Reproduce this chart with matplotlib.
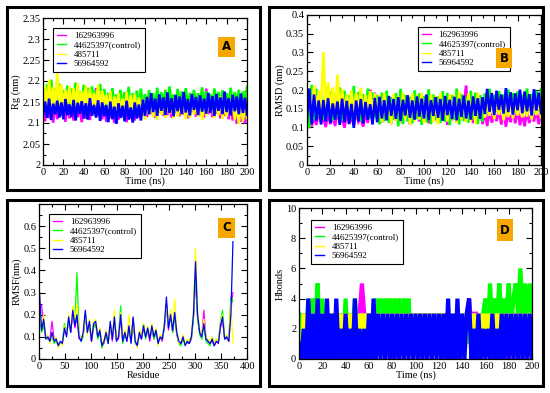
import numpy as np
import matplotlib
matplotlib.use("Agg")
import matplotlib.pyplot as plt
from matplotlib.patches import Rectangle
from matplotlib.ticker import MultipleLocator, FuncFormatter

plt.rcParams['font.family'] = ['Liberation Serif', 'DejaVu Serif']

series_names = ["162963996", "44625397(control)", "485711", "56964592"]
series_colors = ["#ff00ff", "#00ff00", "#ffff00", "#0000ff"]

# ---------------- Panel A: Rg (nm), time 0-200 ns ----------------
rg_magenta = [2.128,2.104,2.147,2.112,2.139,2.101,2.152,2.109,2.143,2.118,2.136,2.103,2.149,2.111,2.141,2.106,2.155,2.114,2.138,2.102,2.146,2.110,2.151,2.107,2.168,
              2.121,2.183,2.116,2.174,2.109,2.148,
              2.103,2.142,2.112,2.151,2.100,2.137,2.108,2.146,2.115,2.139,2.102,2.153,2.110,2.141,2.106,2.148,2.113,2.136,2.118,2.157,
              2.114,2.162,2.121,2.149,2.112,2.158,2.125,2.152,2.117,2.165,2.119,2.147,2.113,2.160,2.124,2.151,2.116,2.163,2.120,2.148,2.111,2.157,2.126,2.154,2.115,2.161,2.118,2.150,2.113,
              2.182,2.121,2.166,
              2.114,2.158,2.122,2.149,2.111,2.163,2.117,2.152,2.109,2.157,2.106,2.146,
              2.098,2.141,2.103,2.133,2.099,2.128]
rg_green = [2.158,2.133,2.192,2.141,2.203,2.147,
            2.183,2.139,2.194,2.152,2.178,2.143,2.189,2.136,2.182,2.155,2.196,2.146,2.176,2.141,2.191,2.153,2.184,2.138,2.187,2.149,2.179,2.144,2.193,2.137,2.181,
            2.134,2.172,2.128,2.183,2.139,2.168,2.143,2.179,2.131,2.174,2.137,2.186,2.129,2.171,2.145,2.177,2.133,2.182,2.136,2.169,
            2.132,2.178,2.144,2.171,2.137,2.184,2.129,2.173,2.141,2.179,2.134,2.187,2.146,2.168,2.131,2.181,2.139,2.175,2.133,2.183,2.127,2.172,2.142,2.179,2.136,
            2.171,2.145,2.185,2.132,2.176,2.138,2.169,2.133,2.182,2.144,2.174,2.129,2.178,2.141,2.171,2.135,2.184,2.139,2.173,2.146,2.179,2.132,2.175,2.143,2.186]
rg_yellow = [2.142,2.188,2.129,2.203,2.137,2.186,2.131,2.221,
             2.141,2.192,2.133,2.178,2.146,2.187,2.128,2.183,2.139,2.194,2.134,2.176,2.143,2.189,2.127,2.181,2.138,2.172,2.136,2.191,2.129,2.177,2.142,
             2.168,2.124,2.176,2.118,2.163,2.129,2.171,2.121,2.158,2.127,2.174,2.116,2.166,2.123,2.169,2.119,2.161,
             2.116,2.158,2.109,2.152,2.121,2.163,2.114,2.149,2.108,2.157,2.119,2.153,2.112,2.164,2.123,2.151,2.111,2.159,2.115,2.148,2.118,2.162,2.109,2.155,
             2.113,2.166,2.120,2.151,2.116,2.158,2.107,2.153,2.117,2.161,2.124,2.149,2.112,2.157,2.118,2.163,2.110,2.150,2.115,2.159,2.121,2.154,2.108,
             2.148,2.098,2.157,2.104,2.146,2.112]
rg_blue = [2.118,2.151,2.112,2.158,2.107,2.146,2.121,2.153,2.113,2.149,2.109,2.157,2.119,2.144,2.114,2.155,2.106,2.148,2.122,2.152,2.111,2.147,2.108,2.159,2.117,2.143,2.113,2.154,2.105,2.149,2.116,
           2.143,2.102,2.151,2.109,2.139,2.098,2.147,2.112,2.141,2.104,2.153,2.108,2.137,2.101,2.149,2.111,2.144,2.106,2.156,2.117,
           2.162,2.121,2.171,2.126,2.158,2.117,2.168,2.129,2.161,2.119,2.173,2.124,2.159,2.116,2.167,2.128,2.163,2.121,2.174,2.125,2.157,2.118,2.169,2.131,2.162,
           2.119,2.166,2.127,2.158,2.122,2.172,2.124,2.164,2.117,2.169,2.129,2.161,2.121,2.175,2.126,2.159,2.118,2.167,2.128,2.163,2.121,2.170,2.124,2.160,2.120]

# ---------------- Panel B: RMSD (nm), time 0-200 ns ----------------
rmsd_magenta = [0.112,0.134,0.103,0.128,0.107,0.141,0.114,0.126,0.101,0.137,0.109,0.131,0.104,0.143,0.113,0.127,0.099,0.136,0.111,0.129,0.106,0.142,0.115,0.125,0.102,0.138,0.112,
                0.201,0.142,0.193,
                0.121,0.158,0.113,0.167,0.124,0.151,0.109,0.162,0.118,0.171,0.114,0.155,0.123,0.163,0.108,0.168,0.119,0.152,0.116,0.166,0.125,0.157,0.111,0.161,0.117,0.172,0.113,0.154,0.122,0.165,0.107,0.159,0.119,0.169,0.114,0.175,0.121,0.158,
                0.212,
                0.118,0.167,0.112,0.158,0.123,0.153,
                0.109,0.141,0.104,0.147,0.113,0.136,0.117,0.149,0.108,0.143,0.102,0.138,0.114,0.146,0.111,0.151,0.106,0.139,0.103,0.144,0.112,0.137,0.116,0.148,0.109,0.142]
rmsd_green = [0.152,0.098,0.214,0.121,0.203,0.128,
              0.187,0.122,0.209,0.131,0.196,0.118,0.191,0.127,0.207,0.119,0.198,0.133,0.186,0.121,0.211,0.126,0.195,0.117,0.189,0.132,0.204,0.123,0.193,0.128,0.186,
              0.108,0.193,0.117,0.198,0.112,0.181,0.121,0.192,0.103,0.203,0.109,0.187,0.116,0.182,0.111,0.199,0.123,0.191,0.107,0.184,0.114,0.202,0.109,0.188,0.119,0.183,0.112,0.197,0.115,0.192,
              0.106,0.186,0.121,0.204,0.108,0.189,0.117,0.181,0.113,0.198,0.122,0.193,0.109,0.186,0.116,
              0.191,0.138,0.203,0.147,0.186,0.141,0.197,0.149,0.188,0.136,0.201,0.144,0.192,0.139,0.196,0.148,0.187,0.142,0.204,0.146,0.189,0.137,0.198,0.143,0.202]
rmsd_yellow = [0.118,0.203,0.127,0.212,0.142,0.198,0.151,
               0.301,
               0.139,0.221,0.146,0.207,0.141,
               0.241,
               0.138,0.203,0.131,0.188,0.143,0.199,0.134,0.192,0.141,0.206,0.129,0.187,0.144,0.197,0.133,0.191,0.142,
               0.187,0.114,0.192,0.121,0.178,0.109,0.189,0.118,0.183,0.116,0.194,0.123,0.179,0.108,0.191,0.117,0.186,0.121,0.193,0.111,0.181,0.119,0.188,0.114,0.184,0.108,0.192,0.122,0.177,0.116,
               0.189,0.119,0.186,0.112,0.196,0.121,0.182,0.114,0.191,0.118,0.184,0.109,0.193,0.123,0.181,
               0.126,0.168,0.131,0.177,0.122,0.171,0.134,0.174,0.119,0.166,0.128,0.178,0.124,0.169,0.132,0.176,0.127,0.172,0.129,0.179,0.121,0.168,0.133,0.175,0.126]
rmsd_blue = [0.118,0.204,0.109,0.188,0.117,0.172,
             0.108,0.173,0.116,0.178,0.112,0.164,0.121,0.169,0.107,0.177,0.114,0.171,0.109,0.163,0.099,0.172,0.116,0.176,0.111,0.168,0.121,0.162,0.108,0.179,0.114,
             0.182,0.124,0.173,0.119,0.184,0.131,0.176,0.123,0.181,0.118,0.174,0.132,0.186,0.126,0.172,0.121,0.183,0.129,0.177,0.124,0.188,0.119,0.173,0.131,0.181,0.126,0.176,0.118,0.184,0.133,
             0.174,0.122,0.182,0.119,0.177,0.128,0.185,0.124,0.172,0.121,0.183,0.131,0.178,0.123,0.181,
             0.136,0.203,0.142,0.192,0.133,0.198,0.147,0.188,0.137,0.205,0.141,0.194,0.134,0.191,0.146,0.201,0.138,0.196,0.143,0.189,0.132,0.202,0.145,0.193,0.139]

# ---------------- Panel C: RMSF (nm) vs residue (1, 5, 9, ... 373) ----------------
rmsf_magenta = [0.25,0.24,0.17,0.10,0.09,0.09,0.17,0.09,0.08,0.07,
                0.07,0.08,0.13,0.11,0.18,0.12,0.21,0.14,0.19,0.09,
                0.09,0.11,0.20,0.12,0.16,0.08,0.15,0.16,0.10,0.12,
                0.06,0.07,0.12,0.08,0.15,0.08,0.18,0.09,0.09,0.19,
                0.08,0.11,0.08,0.14,0.08,0.18,0.08,0.07,0.11,0.09,
                0.14,0.10,0.13,0.08,0.14,0.09,0.12,0.08,0.10,0.08,
                0.14,0.25,0.13,0.21,0.12,0.20,0.11,0.07,0.07,0.09,
                0.07,0.08,0.07,0.09,0.19,0.35,0.19,0.12,0.10,0.22,
                0.10,0.08,0.07,0.08,0.06,0.08,0.08,0.14,0.18,0.09,
                0.10,0.08,0.22,0.30]
rmsf_green = [0.20,0.12,0.15,0.10,0.09,0.08,0.10,0.07,0.08,0.06,
              0.07,0.08,0.16,0.12,0.17,0.13,0.20,0.17,0.39,0.12,
              0.08,0.10,0.20,0.13,0.15,0.09,0.14,0.16,0.09,0.12,
              0.05,0.08,0.11,0.07,0.15,0.10,0.18,0.08,0.11,0.24,
              0.07,0.11,0.09,0.14,0.08,0.17,0.07,0.06,0.11,0.10,
              0.16,0.09,0.13,0.10,0.14,0.09,0.12,0.08,0.09,0.10,
              0.14,0.24,0.15,0.19,0.12,0.20,0.11,0.07,0.06,0.09,
              0.07,0.07,0.08,0.09,0.18,0.38,0.18,0.11,0.09,0.15,
              0.08,0.07,0.06,0.10,0.07,0.09,0.08,0.17,0.22,0.10,
              0.09,0.10,0.28,0.26]
rmsf_yellow = [0.22,0.14,0.20,0.09,0.11,0.07,0.11,0.08,0.10,0.05,
               0.08,0.06,0.15,0.11,0.20,0.13,0.24,0.18,0.25,0.11,
               0.09,0.11,0.21,0.11,0.18,0.09,0.17,0.18,0.11,0.14,
               0.07,0.09,0.13,0.08,0.16,0.10,0.22,0.09,0.11,0.21,
               0.09,0.13,0.09,0.20,0.08,0.17,0.09,0.05,0.13,0.10,
               0.16,0.11,0.15,0.10,0.16,0.11,0.14,0.06,0.11,0.10,
               0.16,0.25,0.16,0.22,0.15,0.27,0.13,0.07,0.08,0.11,
               0.07,0.09,0.08,0.11,0.22,0.50,0.22,0.13,0.11,0.18,
               0.10,0.09,0.08,0.10,0.07,0.09,0.08,0.16,0.20,0.10,
               0.11,0.09,0.26,0.07]
rmsf_blue = [0.30,0.13,0.18,0.09,0.10,0.08,0.12,0.08,0.09,0.06,
             0.08,0.07,0.14,0.10,0.19,0.12,0.22,0.15,0.20,0.10,
             0.08,0.12,0.22,0.12,0.17,0.08,0.16,0.17,0.10,0.13,
             0.06,0.08,0.12,0.07,0.17,0.09,0.19,0.08,0.10,0.20,
             0.08,0.12,0.08,0.15,0.07,0.19,0.08,0.06,0.12,0.09,
             0.15,0.10,0.14,0.09,0.15,0.10,0.13,0.07,0.10,0.09,
             0.15,0.28,0.14,0.20,0.13,0.21,0.12,0.08,0.07,0.10,
             0.06,0.08,0.07,0.10,0.20,0.44,0.20,0.12,0.10,0.16,
             0.09,0.08,0.07,0.09,0.06,0.08,0.07,0.15,0.19,0.09,
             0.10,0.08,0.20,0.53]

# ---------------- Panel D: H-bonds, time 0-200 ns ----------------
hb_magenta = [2,0,3,1,3,0,3,1,3,0,3,1,3,0,3,1,3,0,3,1,3,0,3,1,3,1,
              3,5,3,2,
              3,1,3,0,3,1,3,0,3,1,3,0,3,1,3,0,3,1,3,0,3,1,3,0,3,1,3,0,3,1,3,0,3,1,3,0,3,1,3,0,3,1,3,
              4,2,3,
              3,2,3,1,3,2,3,1,3,2,3,1,3,0,3,1,3,0,3,1,3,0,3,1,3]
hb_green = [3,1,3,1,
            4,1,4,2,5,1,4,
            1,3,1,3,1,3,1,
            3,1,4,1,3,2,4,1,3,1,3,1,
            3,1,3,
            4,2,4,1,4,2,4,1,4,2,4,1,4,2,4,1,
            3,1,3,1,3,1,3,1,3,1,3,1,3,1,3,1,3,1,3,1,3,1,3,1,3,1,3,1,3,1,3,
            4,2,5,2,4,3,5,2,4,3,5,2,4,
            5,3,6,3,5,3,5,3]
hb_yellow = [1,0,3,0,3,1,3,0,3,1,3,0,3,1,3,0,3,1,
             3,1,3,0,3,1,3,0,3,1,3,0,
             3,0,3,1,3,0,3,1,3,0,3,1,3,0,3,1,3,0,3,1,3,0,3,1,3,0,3,1,3,0,3,1,3,0,3,1,3,0,3,1,3,0,3,
             3,2,3,2,3,2,3,2,3,2,3,2,3,2,
             3,0,3,1,3,0,3,1,3,0,3,1,3,0]
hb_blue = [1,0,2,0,
           4,0,3,0,4,0,3,0,4,0,3,0,4,0,
           2,0,3,0,2,0,4,0,2,0,2,0,
           3,0,4,0,3,0,3,0,3,0,3,0,3,0,3,0,3,0,3,0,3,0,3,0,3,0,3,0,3,0,3,0,3,0,4,0,3,0,4,0,3,0,3,
           4,0,2,0,3,0,2,0,2,0,3,0,2,0,
           3,0,3,0,3,0,3,0,3,0,3,0,3,0]

W, H = 550, 393
fig = plt.figure(figsize=(5.5, 3.93), dpi=100)
fig.patch.set_facecolor("white")

def ax_px(x0, y0, x1, y1):
    return fig.add_axes([x0 / W, 1 - y1 / H, (x1 - x0) / W, (y1 - y0) / H])

def frame_px(x0, y0, x1, y1):
    fig.patches.append(Rectangle((x0 / W, 1 - y1 / H), (x1 - x0) / W, (y1 - y0) / H,
                                 transform=fig.transFigure, fill=False, lw=2.2,
                                 edgecolor="black", zorder=10))

fmt = FuncFormatter(lambda v, p: "%g" % round(v, 4))

def style(ax, xlim, ylim, xmaj, xmin, ymaj, ymin, xlabel, ylabel):
    ax.set_xlim(*xlim)
    ax.set_ylim(*ylim)
    ax.xaxis.set_major_locator(MultipleLocator(xmaj))
    ax.xaxis.set_minor_locator(MultipleLocator(xmin))
    ax.yaxis.set_major_locator(MultipleLocator(ymaj))
    ax.yaxis.set_minor_locator(MultipleLocator(ymin))
    ax.xaxis.set_major_formatter(fmt)
    ax.yaxis.set_major_formatter(fmt)
    ax.tick_params(which="both", direction="in", top=True, right=True, width=0.8,
                   labelsize=7.5, pad=2)
    ax.tick_params(which="major", length=4)
    ax.tick_params(which="minor", length=2)
    for s in ax.spines.values():
        s.set_linewidth(0.9)
        s.set_zorder(4)
    ax.set_xlabel(xlabel, fontsize=7.5, labelpad=0)
    ax.set_ylabel(ylabel, fontsize=7.5, labelpad=1)

def legend(ax, x, y):
    leg = ax.legend(loc="upper left", bbox_to_anchor=(x, y), borderaxespad=0,
                    fontsize=6.5, frameon=True, fancybox=False, framealpha=1,
                    edgecolor="black", handlelength=1.0, handletextpad=0.9,
                    labelspacing=0.12, borderpad=0.4)
    leg.get_frame().set_linewidth(0.8)
    for h in leg.get_lines():
        h.set_linewidth(1.0)
    leg.set_zorder(5)

def tag(ax, cx, cy, letter, w=17, h=20):
    bw = w / (ax.bbox.width)
    bh = h / (ax.bbox.height)
    ax.add_patch(Rectangle((cx - bw / 2, cy - bh / 2), bw, bh, transform=ax.transAxes,
                           facecolor="#f7a800", edgecolor="none", zorder=6, clip_on=False))
    ax.text(cx, cy, letter, transform=ax.transAxes, ha="center", va="center",
            fontsize=8.5, fontweight="bold", family="DejaVu Sans", color="black", zorder=7)

def draw(ax, arrays, lw, xstart=0, xend=200):
    for arr, c, name in zip(arrays, series_colors, series_names):
        x = np.linspace(xstart, xend, len(arr))
        ax.plot(x, arr, color=c, lw=lw, label=name, solid_joinstyle="miter")

# Panel A
frame_px(7, 7, 260, 190)
axA = ax_px(43, 18, 247, 165)
draw(axA, [rg_magenta, rg_green, rg_yellow, rg_blue], 1.9)
style(axA, (0, 200), (2.0, 2.35), 20, 10, 0.05, 0.025, "Time (ns)", "Rg (nm)")
legend(axA, 0.049, 0.932)
tag(axA, 0.90, 0.803, "A")

# Panel B
frame_px(269, 7, 543, 190)
axB = ax_px(307, 15, 541, 165)
draw(axB, [rmsd_magenta, rmsd_green, rmsd_yellow, rmsd_blue], 1.9)
style(axB, (0, 200), (0, 0.4), 20, 10, 0.05, 0.025, "Time (ns)", "RMSD (nm)")
legend(axB, 0.474, 0.92)
tag(axB, 0.844, 0.713, "B", w=16, h=20)

# Panel C
frame_px(7, 200, 260, 386)
axC = ax_px(39, 204, 247, 359)
for arr, c, name in zip([rmsf_magenta, rmsf_green, rmsf_yellow, rmsf_blue], series_colors, series_names):
    res = 1 + 4 * np.arange(len(arr))
    axC.plot(res, arr, color=c, lw=0.9, label=name)
style(axC, (0, 400), (0, 0.7), 50, 25, 0.1, 0.05, "Residue", "RMSF(nm)")
axC.set_yticks([0, 0.1, 0.2, 0.3, 0.4, 0.5, 0.6])
legend(axC, 0.048, 0.935)
tag(axC, 0.901, 0.848, "C")

# Panel D
frame_px(269, 200, 543, 386)
axD = ax_px(299, 208, 532, 359)
draw(axD, [hb_magenta, hb_green, hb_yellow, hb_blue], 3.0)
style(axD, (0, 200), (0, 10), 20, 10, 2, 1, "Time (ns)", "Hbonds")
legend(axD, 0.052, 0.92)
tag(axD, 0.884, 0.854, "D", w=16, h=22)

fig.savefig("out.png", dpi=100, facecolor="white")
